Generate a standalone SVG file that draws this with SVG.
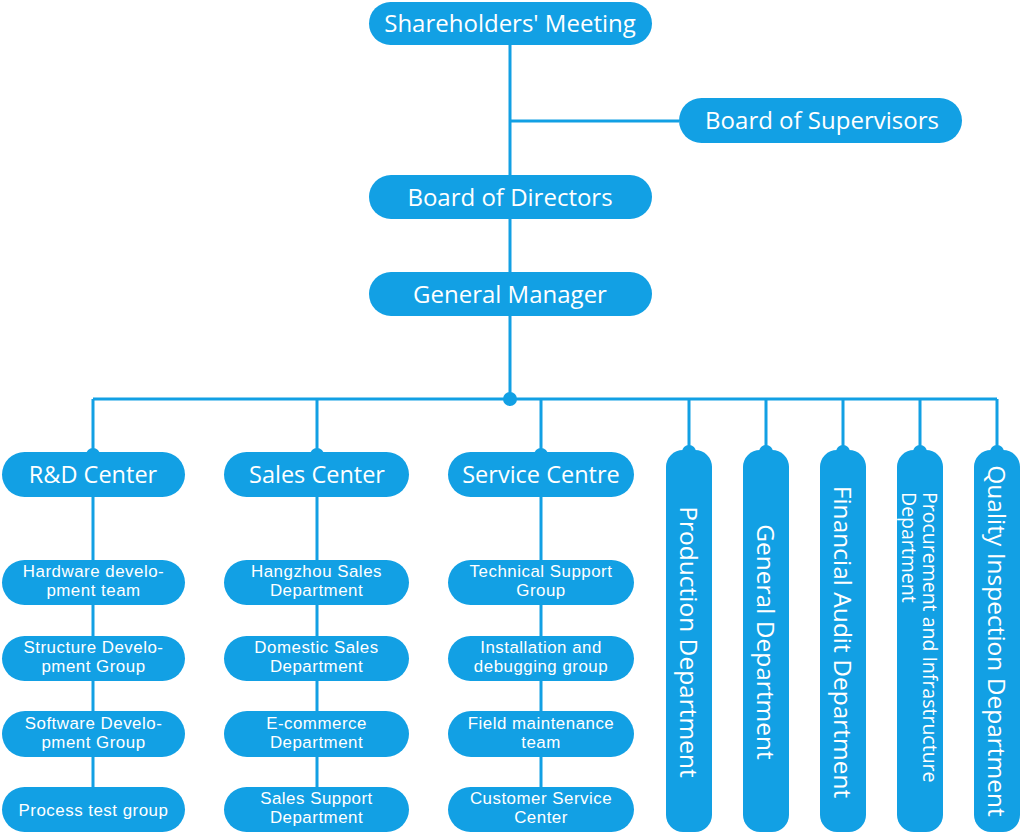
<svg xmlns="http://www.w3.org/2000/svg" width="1020" height="833" viewBox="0 0 1020 833">
<style>
.bx{fill:#12A0E4}
.ln{stroke:#12A0E4;stroke-width:3;fill:none}
.t{fill:#fff;font-family:"Open Sans","Noto Sans","Liberation Sans",sans-serif;text-anchor:middle}
.t1{font-size:24px}
.t2{font-size:23.5px}
.t3{font-family:"Liberation Sans",Arial,sans-serif;font-size:16.9px;letter-spacing:0.5px}
.tv{font-size:24.5px}
.tp{font-size:19.5px;text-anchor:start}
</style>
<rect width="1020" height="833" fill="#fff"/>
<g id="connectors">
<path class="ln" d="M510 45V399M510 121H679M93 399H997"/>
<path class="ln" d="M93 399V452M317 399V452M541 399V452M689 399V450M766 399V450M843 399V450M920 399V450M997 399V450"/>
<path class="ln" d="M93 497V560M93 605V636M93 681V711M93 757V787"/>
<path class="ln" d="M317 497V560M317 605V636M317 681V711M317 757V787"/>
<path class="ln" d="M541 497V560M541 605V636M541 681V711M541 757V787"/>
<circle cx="510" cy="399" r="7" class="bx"/>
</g>
<g id="shareholders"><rect class="bx" x="369" y="2" width="283" height="43" rx="21.5"/><text class="t t1" x="510" y="32">Shareholders' Meeting</text></g>
<g id="supervisors"><rect class="bx" x="679" y="98" width="283" height="45" rx="22.5"/><text class="t t1" x="822" y="129">Board of Supervisors</text></g>
<g id="directors"><rect class="bx" x="369" y="175" width="283" height="44" rx="22"/><text class="t t1" x="510" y="205.5">Board of Directors</text></g>
<g id="gm"><rect class="bx" x="369" y="272" width="283" height="44" rx="22"/><text class="t t1" x="510" y="302.5">General Manager</text></g>

<g id="rd"><circle class="bx" cx="93" cy="455" r="7"/><rect class="bx" x="2" y="452" width="183" height="45" rx="22.5"/><text class="t t2" x="93" y="483">R&amp;D Center</text></g>
<g id="sales"><circle class="bx" cx="317" cy="455" r="7"/><rect class="bx" x="224" y="452" width="185" height="45" rx="22.5"/><text class="t t2" x="317" y="483">Sales Center</text></g>
<g id="service"><circle class="bx" cx="541" cy="455" r="7"/><rect class="bx" x="448" y="452" width="186" height="45" rx="22.5"/><text class="t t2" x="541" y="483">Service Centre</text></g>

<g id="rd1"><rect class="bx" x="2" y="560" width="183" height="45" rx="22.5"/><text class="t t3" x="93.5" y="577">Hardware develo-<tspan x="93.5" dy="19">pment team</tspan></text></g>
<g id="rd2"><rect class="bx" x="2" y="636" width="183" height="45" rx="22.5"/><text class="t t3" x="93.5" y="653">Structure Develo-<tspan x="93.5" dy="19">pment Group</tspan></text></g>
<g id="rd3"><rect class="bx" x="2" y="711" width="183" height="46" rx="23"/><text class="t t3" x="93.5" y="728.5">Software Develo-<tspan x="93.5" dy="19">pment Group</tspan></text></g>
<g id="rd4"><rect class="bx" x="2" y="787" width="183" height="45" rx="22.5"/><text class="t t3" x="93.5" y="815.5">Process test group</text></g>

<g id="s1"><rect class="bx" x="224" y="560" width="185" height="45" rx="22.5"/><text class="t t3" x="316.5" y="577">Hangzhou Sales<tspan x="316.5" dy="19">Department</tspan></text></g>
<g id="s2"><rect class="bx" x="224" y="636" width="185" height="45" rx="22.5"/><text class="t t3" x="316.5" y="653">Domestic Sales<tspan x="316.5" dy="19">Department</tspan></text></g>
<g id="s3"><rect class="bx" x="224" y="711" width="185" height="46" rx="23"/><text class="t t3" x="316.5" y="728.5">E-commerce<tspan x="316.5" dy="19">Department</tspan></text></g>
<g id="s4"><rect class="bx" x="224" y="787" width="185" height="45" rx="22.5"/><text class="t t3" x="316.5" y="804">Sales Support<tspan x="316.5" dy="19">Department</tspan></text></g>

<g id="v1"><rect class="bx" x="448" y="560" width="186" height="45" rx="22.5"/><text class="t t3" x="541" y="577">Technical Support<tspan x="541" dy="19">Group</tspan></text></g>
<g id="v2"><rect class="bx" x="448" y="636" width="186" height="45" rx="22.5"/><text class="t t3" x="541" y="653">Installation and<tspan x="541" dy="19">debugging group</tspan></text></g>
<g id="v3"><rect class="bx" x="448" y="711" width="186" height="46" rx="23"/><text class="t t3" x="541" y="728.5">Field maintenance<tspan x="541" dy="19">team</tspan></text></g>
<g id="v4"><rect class="bx" x="448" y="787" width="186" height="45" rx="22.5"/><text class="t t3" x="541" y="804">Customer Service<tspan x="541" dy="19">Center</tspan></text></g>

<g id="production"><circle class="bx" cx="689" cy="452" r="7"/><rect class="bx" x="666" y="450" width="46" height="382" rx="17"/><text class="t tv" transform="translate(689 642) rotate(90)" x="0" y="8.6">Production Department</text></g>
<g id="general"><circle class="bx" cx="766" cy="452" r="7"/><rect class="bx" x="743" y="450" width="46" height="382" rx="17"/><text class="t tv" transform="translate(766 642) rotate(90)" x="0" y="8.6">General Department</text></g>
<g id="financial"><circle class="bx" cx="843" cy="452" r="7"/><rect class="bx" x="820" y="450" width="46" height="382" rx="17"/><text class="t tv" transform="translate(843 642) rotate(90)" x="0" y="8.6">Financial Audit Department</text></g>
<g id="procurement"><circle class="bx" cx="920" cy="452" r="7"/><rect class="bx" x="897" y="450" width="46" height="382" rx="17"/><text class="t tp" transform="translate(920 492) rotate(90)" x="0" y="-3">Procurement and Infrastructure<tspan x="0" dy="21">Department</tspan></text></g>
<g id="quality"><circle class="bx" cx="997" cy="452" r="7"/><rect class="bx" x="974" y="450" width="46" height="382" rx="17"/><text class="t tv" transform="translate(997 641) rotate(90)" x="0" y="8.6">Quality Inspection Department</text></g>
</svg>
